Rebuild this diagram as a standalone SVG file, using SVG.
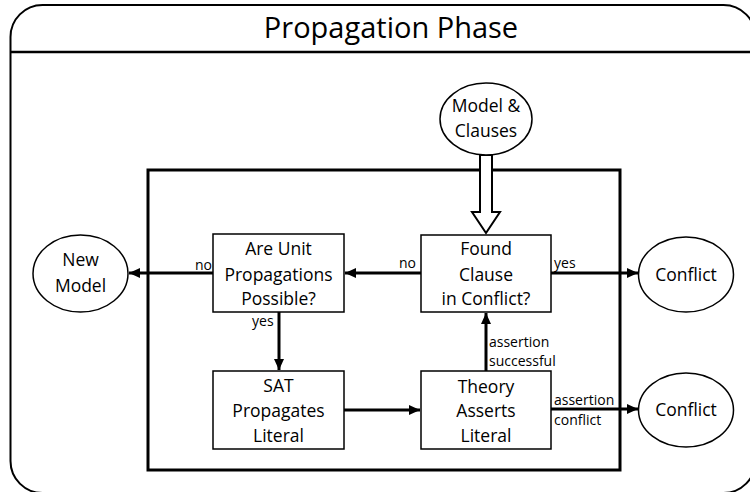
<svg xmlns="http://www.w3.org/2000/svg" width="750" height="492" viewBox="0 0 750 492">
<defs>
<marker id="ah" markerUnits="userSpaceOnUse" markerWidth="12" markerHeight="12" viewBox="0 0 12 12" refX="11" refY="6" orient="auto">
<path d="M0,1 L11,6 L0,11 Z" fill="#000"/>
</marker>
<style>
text{font-family:"Open Sans","Liberation Sans",Arial,sans-serif;fill:#000}
.t{font-size:17.5px;text-anchor:middle}
.s{font-size:14px}
.box{fill:#fff;stroke:#000;stroke-width:1.5}
.ell{fill:#fff;stroke:#000;stroke-width:1.5}
.c{stroke:#000;stroke-width:3;fill:none;marker-end:url(#ah)}
</style>
</defs>
<rect width="750" height="492" fill="#fff"/>
<g id="frame">
<rect x="10.5" y="5" width="745" height="488" rx="32" ry="32" fill="none" stroke="#000" stroke-width="2"/>
<line x1="10.5" y1="52" x2="750" y2="52" stroke="#000" stroke-width="2.5"/>
<text x="391" y="38" style="font-size:29px;text-anchor:middle">Propagation Phase</text>
</g>
<g id="inner">
<rect x="148" y="170" width="472" height="300" fill="none" stroke="#000" stroke-width="3"/>
</g>
<g id="connectors">
<line class="c" x1="213" y1="273" x2="129" y2="273"/>
<line class="c" x1="421" y1="273" x2="345" y2="273"/>
<line class="c" x1="551" y1="273" x2="638" y2="273"/>
<line class="c" x1="279" y1="312" x2="279" y2="370"/>
<line class="c" x1="344" y1="410" x2="420" y2="410"/>
<line class="c" x1="486" y1="371" x2="486" y2="313"/>
<line class="c" x1="551" y1="409" x2="638" y2="409"/>
<polygon points="480,155 480,212 472,212 486,233 500,212 492,212 492,155" fill="#fff" stroke="#000" stroke-width="2"/>
<text class="s" x="195" y="270">no</text>
<text class="s" x="399" y="268">no</text>
<text class="s" x="554" y="268">yes</text>
<text class="s" x="252" y="326">yes</text>
<text class="s" x="489" y="347">assertion</text>
<text class="s" x="489" y="366">successful</text>
<text class="s" x="554" y="405">assertion</text>
<text class="s" x="554" y="425">conflict</text>
</g>
<g id="model-clauses">
<ellipse class="ell" cx="486" cy="119" rx="46" ry="36"/>
<text class="t" x="486" y="112">Model &amp;</text>
<text class="t" x="486" y="137">Clauses</text>
</g>
<g id="new-model">
<ellipse class="ell" cx="80.5" cy="273.5" rx="47.5" ry="38.5"/>
<text class="t" x="80.5" y="266">New</text>
<text class="t" x="80.5" y="292">Model</text>
</g>
<g id="conflict1">
<ellipse class="ell" cx="686" cy="274.5" rx="47.5" ry="37.5"/>
<text class="t" x="686" y="281">Conflict</text>
</g>
<g id="conflict2">
<ellipse class="ell" cx="686" cy="410" rx="47.5" ry="37"/>
<text class="t" x="686" y="416">Conflict</text>
</g>
<g id="are-unit">
<rect class="box" x="213" y="234" width="131" height="78"/>
<text class="t" x="278.5" y="255">Are Unit</text>
<text class="t" x="278.5" y="281">Propagations</text>
<text class="t" x="278.5" y="305">Possible?</text>
</g>
<g id="found-clause">
<rect class="box" x="421" y="235" width="130" height="77"/>
<text class="t" x="486" y="255">Found</text>
<text class="t" x="486" y="281">Clause</text>
<text class="t" x="486" y="305">in Conflict?</text>
</g>
<g id="sat">
<rect class="box" x="213" y="371" width="131" height="78"/>
<text class="t" x="278.5" y="392">SAT</text>
<text class="t" x="278.5" y="417">Propagates</text>
<text class="t" x="278.5" y="442">Literal</text>
</g>
<g id="theory">
<rect class="box" x="421" y="371" width="130" height="78"/>
<text class="t" x="486" y="393">Theory</text>
<text class="t" x="486" y="417">Asserts</text>
<text class="t" x="486" y="442">Literal</text>
</g>
</svg>
